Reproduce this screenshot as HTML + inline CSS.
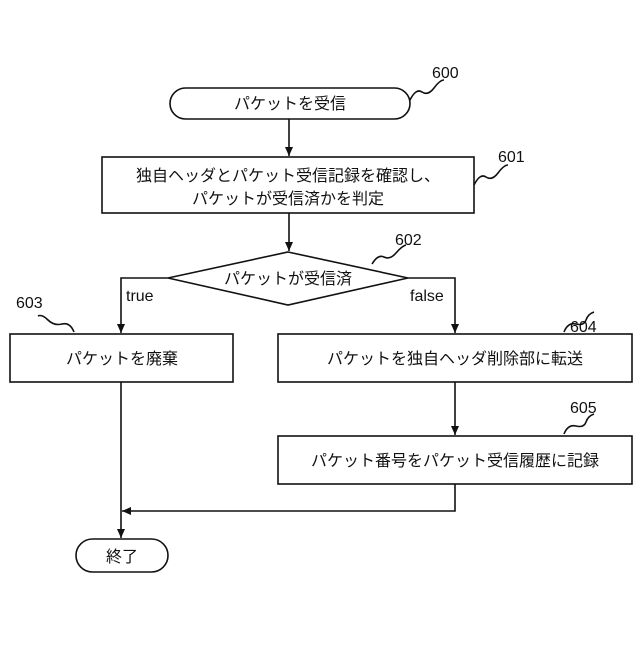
<!DOCTYPE html>
<html><head><meta charset="utf-8"><style>
body{margin:0;background:#fff}
text{font-family:"Liberation Sans","Noto Sans CJK JP",sans-serif;fill:#111}
</style></head><body>
<svg width="640" height="640" viewBox="0 0 640 640" xmlns="http://www.w3.org/2000/svg">
<defs><marker id="a" markerWidth="10" markerHeight="10" refX="9" refY="5" orient="auto" markerUnits="userSpaceOnUse"><path d="M0,1 L9,5 L0,9 Z" fill="#111"/></marker></defs>
<g fill="none" stroke="#111" stroke-width="1.6">
<rect x="170" y="88" width="240" height="31" rx="15.5" fill="#fff"/>
<rect x="102" y="157" width="372" height="56" fill="#fff"/>
<polygon points="288,252 408,278 288,305 168,278" fill="#fff"/>
<rect x="10" y="334" width="223" height="48" fill="#fff"/>
<rect x="278" y="334" width="354" height="48" fill="#fff"/>
<rect x="278" y="436" width="354" height="48" fill="#fff"/>
<rect x="76" y="539" width="92" height="33" rx="16.5" fill="#fff"/>
<line x1="289" y1="119" x2="289" y2="156" marker-end="url(#a)"/>
<line x1="289" y1="213" x2="289" y2="251" marker-end="url(#a)"/>
<polyline points="168,278 121,278 121,333" marker-end="url(#a)"/>
<polyline points="408,278 455,278 455,333" marker-end="url(#a)"/>
<line x1="455" y1="382" x2="455" y2="435" marker-end="url(#a)"/>
<line x1="121" y1="382" x2="121" y2="538" marker-end="url(#a)"/>
<polyline points="455,484 455,511 122,511" marker-end="url(#a)"/>
<path d="M410,100 q6,-12 12,-8 t12,-4 t10,-8"/>
<path d="M474,185 q6,-12 12,-8 t12,-4 t10,-8"/>
<path d="M372,264 q6,-10 12,-7 t12,-4 t10,-8"/>
<path d="M74,332 q-4,-10 -12,-8 t-14,-4 t-10,-4"/>
<path d="M564,332 q4,-10 12,-8 t10,-4 t8,-8"/>
<path d="M564,434 q4,-10 12,-8 t10,-4 t8,-8"/>
</g>
<g font-size="16" text-anchor="middle">
<text x="290" y="109">パケットを受信</text>
<text x="288" y="181">独自ヘッダとパケット受信記録を確認し、</text>
<text x="288" y="204">パケットが受信済かを判定</text>
<text x="288" y="284">パケットが受信済</text>
<text x="122" y="364">パケットを廃棄</text>
<text x="455" y="364">パケットを独自ヘッダ削除部に転送</text>
<text x="455" y="466">パケット番号をパケット受信履歴に記録</text>
<text x="122" y="562">終了</text>
</g>
<g font-size="16">
<text x="126" y="301">true</text>
<text x="410" y="301">false</text>
<text x="432" y="78">600</text>
<text x="498" y="162">601</text>
<text x="395" y="245">602</text>
<text x="16" y="308">603</text>
<text x="570" y="332">604</text>
<text x="570" y="413">605</text>
</g>
</svg>
</body></html>
